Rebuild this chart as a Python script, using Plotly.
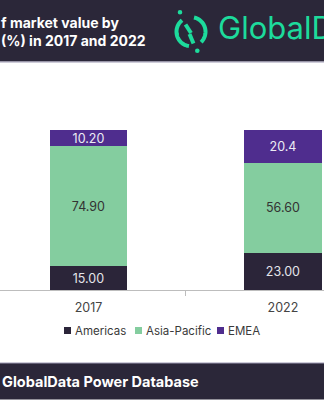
import numpy as np
import plotly.graph_objects as go

# ---- data -------------------------------------------------------------
years = ["2017", "2022"]
americas = [15.00, 23.00]
asia_pacific = [74.90, 56.60]
emea = [10.20, 20.4]
americas_labels = ["15.00", "23.00"]
asia_pacific_labels = ["74.90", "56.60"]
emea_labels = ["10.20", "20.4"]

series_names = ["Americas", "Asia-Pacific", "EMEA"]
series_colors = ["#2b2539", "#84cd9f", "#4f2d8e"]
label_colors = ["#e4e4ea", "#333333", "#ececf4"]

W, H = 324, 400
FONT = "Inter"
HEADER_BG = "#2b2739"
LOGO_GREEN = "#1ddb9c"


def px(x):
    return x / W


def py(y):
    return 1 - y / H


fig = go.Figure()

for name, vals, labels, col, tcol in zip(
    series_names,
    [americas, asia_pacific, emea],
    [americas_labels, asia_pacific_labels, emea_labels],
    series_colors,
    label_colors,
):
    fig.add_trace(
        go.Bar(
            x=years,
            y=vals,
            name=name,
            width=0.4,
            marker=dict(color=col, line=dict(width=0)),
            text=labels,
            textposition="inside",
            insidetextanchor="middle",
            constraintext="none",
            textfont=dict(family=FONT, size=12.5, color=tcol),
            showlegend=False,
            hoverinfo="skip",
        )
    )

shapes = []
annotations = []

# header band
shapes.append(dict(type="rect", xref="paper", yref="paper", x0=0, x1=1,
                   y0=py(61.5), y1=1, fillcolor=HEADER_BG, line_width=0, layer="below"))
shapes.append(dict(type="line", xref="paper", yref="paper", x0=0, x1=1,
                   y0=py(62), y1=py(62), line=dict(color="#9d99b3", width=1)))

# footer band
shapes.append(dict(type="rect", xref="paper", yref="paper", x0=0, x1=1,
                   y0=py(399.5), y1=py(363), fillcolor=HEADER_BG, line_width=0, layer="below"))
shapes.append(dict(type="line", xref="paper", yref="paper", x0=0, x1=1,
                   y0=py(363), y1=py(363), line=dict(color="#9d99b3", width=1)))

# title
annotations.append(dict(text="<b>f market value by<br>(%) in 2017 and 2022</b>",
                        xref="paper", yref="paper", align="left",
                        x=px(-1), y=py(31), xanchor="left", yanchor="middle",
                        showarrow=False,
                        font=dict(family=FONT, size=14, color="white")))

# logo mark: open ring with two dots and a broken slash
cx, cy, r = 191.0, 31.7, 14.5


def arc_path(a0, a1, n=40):
    ang = np.radians(np.linspace(a0, a1, n))
    xs = cx + r * np.cos(ang)
    ys = cy - r * np.sin(ang)
    pts = [f"{px(x):.5f},{py(y):.5f}" for x, y in zip(xs, ys)]
    return "M " + " L ".join(pts)


for a0, a1 in [(128, 262), (-46, 78)]:
    shapes.append(dict(type="path", xref="paper", yref="paper", path=arc_path(a0, a1),
                       line=dict(color=LOGO_GREEN, width=4)))
for (x0, y0, x1, y1) in [(185.5, 24.5, 191.0, 33.0), (189.5, 34.0, 193.5, 43.5)]:
    shapes.append(dict(type="line", xref="paper", yref="paper", x0=px(x0), y0=py(y0),
                       x1=px(x1), y1=py(y1), line=dict(color=LOGO_GREEN, width=4)))
for (dx, dy) in [(180.0, 12.3), (197.3, 50.7)]:
    shapes.append(dict(type="circle", xref="paper", yref="paper",
                       x0=px(dx - 2.3), x1=px(dx + 2.3), y0=py(dy + 2.3), y1=py(dy - 2.3),
                       fillcolor=LOGO_GREEN, line_width=0))

annotations.append(dict(text="GlobalData", xref="paper", yref="paper",
                        x=px(216), y=py(27), xanchor="left", yanchor="middle",
                        showarrow=False, font=dict(family=FONT, size=31, color=LOGO_GREEN)))

# legend
legend_x = [64, 135, 217]
for name, col, lx in zip(series_names, series_colors, legend_x):
    shapes.append(dict(type="rect", xref="paper", yref="paper",
                       x0=px(lx), x1=px(lx + 7), y0=py(334), y1=py(327),
                       fillcolor=col, line_width=0))
    annotations.append(dict(text=name, xref="paper", yref="paper",
                            x=px(lx + 9), y=py(330.5), xanchor="left", yanchor="middle",
                            showarrow=False, font=dict(family=FONT, size=11.5, color="#3a3a3a")))

# footer source
annotations.append(dict(text="<b>GlobalData Power Database</b>", xref="paper", yref="paper",
                        x=px(0), y=py(381.5), xanchor="left", yanchor="middle",
                        showarrow=False, font=dict(family=FONT, size=14.5, color="white")))

fig.update_layout(
    width=W,
    height=H,
    margin=dict(l=0, r=0, t=0, b=0),
    paper_bgcolor="white",
    plot_bgcolor="white",
    barmode="stack",
    showlegend=False,
    shapes=shapes,
    annotations=annotations,
    xaxis=dict(
        type="category",
        categoryorder="array",
        categoryarray=years,
        range=[-0.455, 1.211],
        domain=[0, 1],
        showline=True,
        linecolor="#bdbdbd",
        linewidth=1,
        ticks="outside",
        tickson="boundaries",
        ticklen=5,
        tickcolor="#bdbdbd",
        ticklabelstandoff=6,
        showgrid=False,
        tickfont=dict(family=FONT, size=12.5, color="#444444"),
        fixedrange=True,
    ),
    yaxis=dict(
        range=[0, 110],
        domain=[py(290), py(114)],
        visible=False,
        showgrid=False,
        fixedrange=True,
    ),
)

fig.write_html("out.html")
